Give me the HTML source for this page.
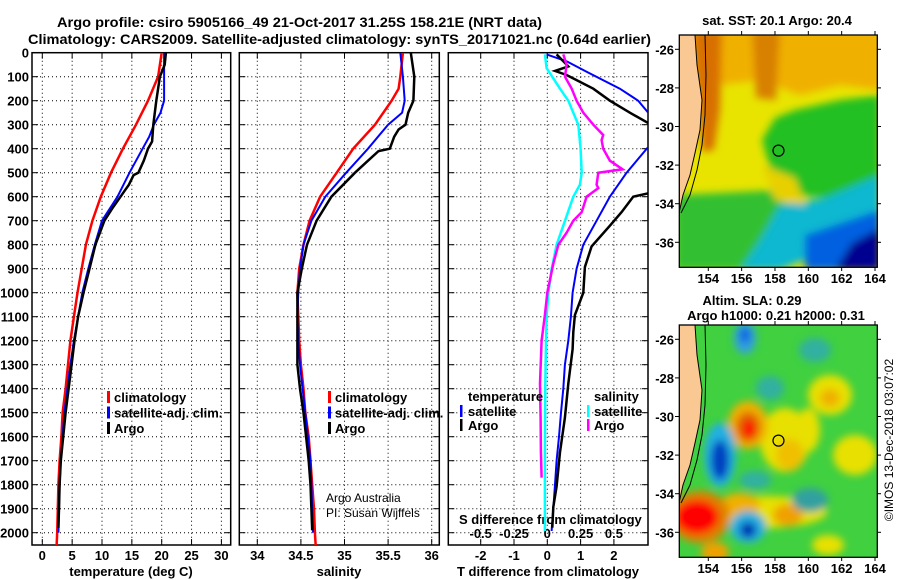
<!DOCTYPE html>
<html><head><meta charset="utf-8"><style>
html,body{margin:0;padding:0;background:#fff}
svg{display:block;font-family:"Liberation Sans",sans-serif}
</style></head><body>
<svg id="chart" width="900" height="580" viewBox="0 0 900 580" xmlns="http://www.w3.org/2000/svg">
<defs>
<filter id="bl" x="-20%" y="-20%" width="140%" height="140%"><feGaussianBlur stdDeviation="4"/></filter>
<filter id="bl2" x="-20%" y="-20%" width="140%" height="140%"><feGaussianBlur stdDeviation="4"/></filter>
<clipPath id="c1"><rect x="32" y="52.7" width="198.7" height="492.3"/></clipPath>
<clipPath id="c2"><rect x="239.3" y="52.7" width="200" height="492.3"/></clipPath>
<clipPath id="c3"><rect x="448.3" y="52.7" width="199.7" height="492.3"/></clipPath>
<clipPath id="m1"><rect x="679.3" y="35" width="198" height="232.3"/></clipPath>
<clipPath id="m2"><rect x="679.3" y="325" width="198" height="232"/></clipPath>
</defs>
<text x="57" y="27" font-size="14" font-weight="bold" textLength="485" lengthAdjust="spacingAndGlyphs">Argo profile: csiro 5905166_49 21-Oct-2017 31.25S 158.21E (NRT data)</text>
<text x="28" y="44" font-size="14" font-weight="bold" textLength="623" lengthAdjust="spacingAndGlyphs">Climatology: CARS2009. Satellite-adjusted climatology: synTS_20171021.nc (0.64d earlier)</text>
<g id="panels"></g>
<g id="maps"></g>
<text transform="translate(893,440) rotate(-90)" text-anchor="middle" font-size="12">©IMOS 13-Dec-2018 03:07:02</text>
</svg>
<script>
// ---- data ----
const depthTicks = [0,100,200,300,400,500,600,700,800,900,1000,1100,1200,1300,1400,1500,1600,1700,1800,1900,2000];
const tempTicks = [0,5,10,15,20,25,30];
const salTicks = [34,34.5,35,35.5,36];
const tdiffTicks = [-2,-1,0,1,2];
const sdiffTicks = [-0.5,-0.25,0,0.25,0.5];
const sdiffLabels = ["-0.5","-0.25","0","0.25","0.5"];

const tClimDepth = [0,100,200,300,400,500,600,700,800,900,1000,1100,1200,1300,1400,1500,1600,1700,1800,1900,2000,2054];
const tClim = [20.0,19.4,17.7,15.7,13.5,11.5,9.8,8.4,7.3,6.6,5.9,5.3,4.7,4.3,3.9,3.4,3.2,2.9,2.7,2.6,2.5,2.4];
const tSatDepth = [0,100,200,250,300,350,400,500,600,700,800,900,1000,1100,1200,1300,1400,1500,1600,1700,1800,1900,2000];
const tSat = [20.4,20.4,20.4,19.8,18.7,17.9,16.8,14.6,12.6,10.0,8.8,7.7,6.7,6.0,5.3,4.7,4.2,3.7,3.4,3.1,2.9,2.8,2.7];
const tArgoDepth = [0,50,100,200,300,370,400,450,500,510,550,600,650,700,800,900,1000,1100,1200,1300,1400,1500,1600,1700,1800,1900,1980];
const tArgo = [20.7,20.5,19.7,19.1,18.6,18.4,17.7,17.0,16.1,15.3,14.5,13.1,11.7,10.4,8.9,7.9,6.9,6.0,5.4,4.9,4.4,3.9,3.5,3.1,2.9,2.8,2.7];

const sClimDepth = [0,100,150,200,300,400,500,600,700,800,900,1000,1100,1200,1300,1400,1500,1600,1700,1800,1900,2000,2054];
const sClim = [35.67,35.64,35.62,35.54,35.35,35.10,34.91,34.72,34.60,34.53,34.48,34.46,34.47,34.48,34.50,34.53,34.55,34.59,34.61,34.63,34.65,34.66,34.67];
const sSatDepth = [0,100,200,250,300,400,500,600,700,800,900,1000,1100,1200,1300,1400,1500,1600,1700,1800,1900,2000];
const sSat = [35.64,35.67,35.69,35.66,35.50,35.27,35.02,34.78,34.62,34.53,34.49,34.47,34.46,34.47,34.49,34.52,34.55,34.58,34.61,34.62,34.63,34.64];
const sArgoDepth = [0,100,200,250,300,320,350,400,410,450,500,600,700,800,900,1000,1100,1200,1300,1400,1500,1600,1700,1800,1900,1990];
const sArgo = [35.76,35.80,35.79,35.73,35.70,35.62,35.57,35.52,35.39,35.27,35.12,34.85,34.68,34.57,34.51,34.46,34.46,34.46,34.46,34.49,34.53,34.56,34.59,34.61,34.62,34.63];

const dTSatDepth = [7,36,79,150,200,250,300,393,500,600,700,800,900,1000,1100,1200,1300,1400,1500,1600,1700,1800,1900,1993];
const dTSat = [-0.02,0.58,1.18,2.18,2.73,3.03,3.4,3.03,2.38,1.88,1.48,1.08,0.88,0.76,0.71,0.63,0.53,0.48,0.41,0.35,0.28,0.23,0.18,0.13];
const dTArgoDepth = [7,57,76,93,150,200,250,293,400,586,600,664,721,807,893,1000,1093,1164,1236,1379,1521,1664,1807,1893,1979];
const dTArgo = [0.28,0.63,0.23,0.58,1.38,1.88,2.48,3.03,3.6,3.03,2.58,2.23,1.88,1.33,1.13,1.08,0.83,0.78,0.76,0.63,0.53,0.38,0.28,0.18,0.15];
const dSSatDepth = [7,64,150,200,250,300,400,500,550,600,700,800,900,1000,1100,1200,1379,1664,1993];
const dSSat = [-0.018,-0.005,0.095,0.158,0.195,0.233,0.25,0.258,0.245,0.195,0.133,0.07,0.033,0.008,-0.005,-0.01,-0.015,-0.018,-0.018];
const dSArgoDepth = [7,50,100,150,200,250,300,343,364,400,450,486,500,550,564,600,664,700,750,800,879,1000,1093,1200,1379,1521,1664,1771];
const dSArgo = [0.12,0.145,0.133,0.183,0.22,0.27,0.345,0.42,0.408,0.42,0.47,0.565,0.383,0.37,0.383,0.295,0.258,0.195,0.145,0.083,0.045,0,-0.018,-0.043,-0.055,-0.05,-0.048,-0.043];

const mapLonTicks = [154,156,158,160,162,164];
const mapLatTicks = [-26,-28,-30,-32,-34,-36];
const floatLon = 158.21, floatLat = -31.25;

// ---- helpers ----
const NS = "http://www.w3.org/2000/svg";
function mk(tag, attrs, parent){const e=document.createElementNS(NS,tag);for(const k in attrs)e.setAttribute(k,attrs[k]);parent.appendChild(e);return e;}
const TOP=52.7, BOT=545;
const yD = d => TOP + 0.24*d;
const xT = t => 42.3 + 5.97*t;
const xS = s => 257.3 + 87.2*(s-34);
const xDT = t => 547.3 + 33.3*t;
const xDS = s => 547.3 + 133.2*s;
const panels = document.getElementById('panels');
const maps = document.getElementById('maps');

function frame(x0,x1,name){
  const g = mk('g',{},panels);
  
  
  for(const d of depthTicks){ if(d===0) continue;
    mk('line',{x1:x0,x2:x1,y1:yD(d),y2:yD(d),stroke:'#000','stroke-width':1,'stroke-dasharray':'1 3'},g);
    mk('line',{x1:x0,x2:x0+6,y1:yD(d),y2:yD(d),stroke:'#000'},g);
    mk('line',{x1:x1-6,x2:x1,y1:yD(d),y2:yD(d),stroke:'#000'},g);
  }
  mk('rect',{x:x0,y:TOP,width:x1-x0,height:BOT-TOP,fill:'none',stroke:'#000','stroke-width':1.5},g);
  return g;
}
function vgrid(g,xs){
  for(const x of xs){
    mk('line',{x1:x,x2:x,y1:TOP,y2:BOT,stroke:'#000','stroke-dasharray':'1 3'},g);
    mk('line',{x1:x,x2:x,y1:TOP,y2:TOP+6,stroke:'#000'},g);
    mk('line',{x1:x,x2:x,y1:BOT-6,y2:BOT,stroke:'#000'},g);
  }
}
function line(vals, depths, xf, color, clip, name, w){
  const pts = vals.map((v,i)=>xf(v).toFixed(1)+','+yD(depths[i]).toFixed(1)).join(' ');
  const p = mk('polyline',{points:pts,fill:'none',stroke:color,'stroke-width':w||2,'clip-path':'url(#'+clip+')'},panels);
  
  
}
function txt(parent,x,y,s,opts){
  const t = mk('text',Object.assign({x:x,y:y,'font-size':13,'font-weight':'bold'},opts||{}),parent);
  t.textContent = s; return t;
}
function legend(x,y,items,name){
  const g = mk('g',{},panels);
  
  
  items.forEach((it,i)=>{
    mk('rect',{x:x,y:y+i*15.5-11,width:3,height:12,fill:it[1]},g);
    txt(g,x+7,y+i*15.5,it[0]);
  });
}

// panel 1 temperature
let g1 = frame(32,230.7,'temperature-panel');
vgrid(g1,tempTicks.map(xT));
depthTicks.forEach(d=>{txt(g1,29,yD(d)+5,String(d),{'text-anchor':'end'});});
tempTicks.forEach(t=>txt(g1,xT(t),560,String(t),{'text-anchor':'middle'}));
txt(g1,131,576,'temperature (deg C)',{'text-anchor':'middle'});
line(tClim,tClimDepth,xT,'#ff0000','c1','temp-climatology-line',2.5);
line(tSat,tSatDepth,xT,'#0000ff','c1','temp-satellite-line',2);
line(tArgo,tArgoDepth,xT,'#000000','c1','temp-argo-line',2.5);
legend(107,402,[['climatology','#ff0000'],['satellite-adj. clim.','#0000ff'],['Argo','#000']],'temp-legend');

// panel 2 salinity
let g2 = frame(239.3,439.3,'salinity-panel');
vgrid(g2,salTicks.map(xS));
salTicks.forEach(s=>txt(g2,xS(s),560,String(s),{'text-anchor':'middle'}));
txt(g2,339,576,'salinity',{'text-anchor':'middle'});
line(sClim,sClimDepth,xS,'#ff0000','c2','sal-climatology-line',2.5);
line(sSat,sSatDepth,xS,'#0000ff','c2','sal-satellite-line',2);
line(sArgo,sArgoDepth,xS,'#000000','c2','sal-argo-line',2.5);
legend(328,402,[['climatology','#ff0000'],['satellite-adj. clim.','#0000ff'],['Argo','#000']],'sal-legend');
let cr = txt(g2,326,502,'Argo Australia',{'font-weight':'normal','font-size':12}); 
let cr2 = txt(g2,326,517,'PI: Susan Wijffels',{'font-weight':'normal','font-size':12}); 

// panel 3 differences
let g3 = frame(448.3,648,'difference-panel');
vgrid(g3,tdiffTicks.map(xDT));
tdiffTicks.forEach(t=>txt(g3,xDT(t),560,String(t),{'text-anchor':'middle'}));
txt(g3,548,576,'T difference from climatology',{'text-anchor':'middle'});
txt(g3,459,524,'S difference from climatology');
sdiffTicks.forEach((s,i)=>txt(g3,xDS(s),538,sdiffLabels[i],{'text-anchor':'middle'}));
line(dTSat,dTSatDepth,xDT,'#0000ff','c3','tdiff-satellite-line',2);
line(dTArgo,dTArgoDepth,xDT,'#000000','c3','tdiff-argo-line',2.5);
line(dSSat,dSSatDepth,xDS,'#00ffff','c3','sdiff-satellite-line',2.5);
line(dSArgo,dSArgoDepth,xDS,'#ff00ff','c3','sdiff-argo-line',2.5);
{
  const g = mk('g',{},panels);
  
  
  txt(g,468,401,'temperature');
  mk('rect',{x:460,y:405,width:2.5,height:12,fill:'#0000ff'},g); txt(g,468,416,'satellite');
  mk('rect',{x:460,y:419,width:2.5,height:12,fill:'#000'},g); txt(g,468,430,'Argo');
  txt(g,594,401,'salinity');
  mk('rect',{x:587,y:405,width:2.5,height:12,fill:'#00ffff'},g); txt(g,594,416,'satellite');
  mk('rect',{x:587,y:419,width:2.5,height:12,fill:'#ff00ff'},g); txt(g,594,430,'Argo');
}

// ---- maps ----
const xL = lon => 708.3 + 16.67*(lon-154);
function mapFrame(y0, latY, name, clip, drawFill){
  const g = mk('g',{},maps);
  
  
  const inner = mk('g',{'clip-path':'url(#'+clip+')'},g);
  drawFill(inner);
  mk('polygon',{points:`679,${y0} 695,${y0} 697,${y0+30} 702,${y0+65} 700,${y0+95} 695,${y0+118} 690,${y0+140} 683,${y0+160} 679,${y0+178}`,fill:'#f9c893'},inner);
  mk('polyline',{points:`695,${y0} 697,${y0+30} 702,${y0+65} 700,${y0+95} 695,${y0+118} 690,${y0+140} 683,${y0+160} 679,${y0+178}`,fill:'none',stroke:'#000','stroke-width':1},inner);
  mk('polyline',{points:`705,${y0} 706,${y0+40} 705,${y0+80} 702,${y0+110} 697,${y0+135} 690,${y0+160} 681,${y0+178}`,fill:'none',stroke:'#000','stroke-width':1},inner);
  const fy = latY(floatLat);
  const c = mk('circle',{cx:xL(floatLon),cy:fy,r:5.5,fill:'none',stroke:'#000','stroke-width':1.2},inner);
  
  
  mk('rect',{x:679.3,y:y0,width:198,height:232.3,fill:'none',stroke:'#000','stroke-width':1.3},g);
  mapLonTicks.forEach(l=>{
    mk('line',{x1:xL(l),x2:xL(l),y1:y0+232.3,y2:y0+236,stroke:'#000'},g);
    mk('line',{x1:xL(l),x2:xL(l),y1:y0-4,y2:y0,stroke:'#000'},g);
    txt(g,xL(l),y0+248,String(l),{'text-anchor':'middle'});
  });
  mapLatTicks.forEach(l=>{
    mk('line',{x1:675,x2:679.3,y1:latY(l),y2:latY(l),stroke:'#000'},g);
    mk('line',{x1:877.3,x2:881,y1:latY(l),y2:latY(l),stroke:'#000'},g);
    txt(g,674,latY(l)+5,String(l),{'text-anchor':'end'});
  });
  return g;
}
const yM1 = lat => 49.3 + 19.3*(-26-lat);
const yM2 = lat => 339.3 + 19.3*(-26-lat);
let mg1 = mapFrame(35, yM1, 'sst-map', 'm1', g=>{
  mk('rect',{x:679,y:35,width:199,height:233,fill:'#e8e400'},g);
  const b = mk('g',{filter:'url(#bl)'},g);
  mk('polygon',{points:'679,30 880,30 880,90 840,85 800,95 760,80 720,85 679,85',fill:'#f0b000'},b);
  mk('polygon',{points:'692,30 722,30 720,110 714,150 702,152 696,80',fill:'#d87000'},b);
  mk('polygon',{points:'752,30 780,30 776,100 756,98',fill:'#d88000'},b);
  mk('polygon',{points:'795,110 840,100 880,95 880,195 825,198 795,195 772,175 762,140 775,118',fill:'#20c020'},b);
  mk('polygon',{points:'675,195 780,190 795,225 760,270 675,270',fill:'#30c030'},b);
  mk('polygon',{points:'780,205 825,198 880,175 880,235 830,250 780,270 740,270 760,240',fill:'#10b8d0'},b);
  mk('polygon',{points:'805,235 880,210 880,270 805,270',fill:'#0060e0'},b);
  mk('polygon',{points:'835,270 852,243 880,228 880,270',fill:'#000090'},b);
  mk('polygon',{points:'762,165 795,178 805,205 775,200',fill:'#e8d000'},b);
});
txt(mg1,777,25,'sat. SST: 20.1 Argo: 20.4',{'text-anchor':'middle'});
let mg2 = mapFrame(325, yM2, 'sla-map', 'm2', g=>{
  mk('rect',{x:679,y:325,width:199,height:233,fill:'#40d040'},g);
  const b = mk('g',{filter:'url(#bl2)'},g);
  const E=(cx,cy,rx,ry,f)=>mk('ellipse',{cx:cx,cy:cy,rx:rx,ry:ry,fill:f},b);
  E(830,395,22,20,'#e8e000'); E(830,398,10,9,'#f0b000');
  E(785,440,25,32,'#e8e000'); E(808,430,12,22,'#e8e000'); E(790,455,14,16,'#f0c000');
  E(748,425,20,24,'#f0b000'); E(748,427,12,15,'#e06000'); E(749,429,6,9,'#ff0000');
  E(720,455,16,32,'#20b0e0'); E(720,460,9,20,'#0040c0');
  E(745,338,11,16,'#30a0e0'); E(745,335,5,8,'#0060e0');
  E(770,388,14,12,'#30b0a0'); E(815,350,16,12,'#30b0a0'); E(855,455,22,20,'#e8e000');
  E(765,512,62,16,'#e8e000'); E(740,505,20,12,'#f0b000'); E(788,515,15,11,'#f0a000');
  E(700,517,30,26,'#e08000'); E(697,517,22,17,'#ff0000');
  E(748,527,18,16,'#20b0e0'); E(748,530,8,8,'#0030b0');
  E(715,552,14,10,'#f0a000'); E(755,480,16,9,'#30b0a0'); E(810,500,18,12,'#30a0a0');
  E(828,545,16,10,'#e8e000');
});
txt(mg2,752,305,'Altim. SLA: 0.29',{'text-anchor':'middle'});
txt(mg2,776,320,'Argo h1000: 0.21 h2000: 0.31',{'text-anchor':'middle'});
</script>
</body></html>
